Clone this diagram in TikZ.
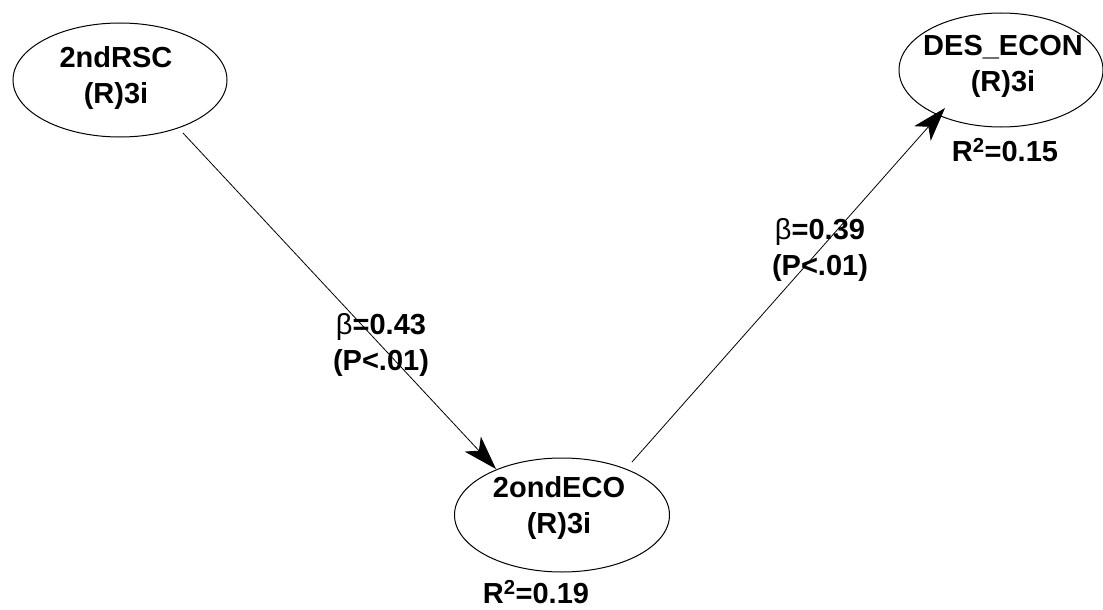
\documentclass[tikz,border=0pt]{standalone}
\usepackage{fontspec}
\setmainfont{Liberation Sans}
\usetikzlibrary{shapes.geometric,arrows.meta}
\begin{document}
\begin{tikzpicture}[x=1pt,y=-1pt,
  lv/.style={draw=black,line width=1pt,ellipse,minimum width=#1,minimum height=114pt,inner sep=0pt},
  txt/.style={font=\fontsize{29}{36}\selectfont\bfseries,align=center},
  lab/.style={font=\fontsize{29}{36}\selectfont\bfseries,align=center},
  path/.style={draw=black,line width=0.8pt,-{Stealth[length=34pt,width=22pt,inset=9pt]}}]
\fill[white] (0,0) rectangle (1103,610);
\useasboundingbox (0,0) rectangle (1103,610);
\node[lv=214pt] (rsc) at (120,80) {};
\node[txt] at (116,78) {2ndRSC\\(R)3i};
\node[lv=204pt] (des) at (1001,70) {};
\node[txt] at (1003,66) {DES\_ECON\\(R)3i};
\node[lv=215pt] (eco) at (562,515) {};
\node[txt] at (559,508) {2ondECO\\(R)3i};
\node[txt] (r1) at (1005,150) {R\textsuperscript{2}=0.15};
\node[txt] (r2) at (536,592) {R\textsuperscript{2}=0.19};
\coordinate (a1) at (183,133);
\coordinate (b1) at (496,469);
\coordinate (a2) at (632,462);
\coordinate (b2) at (945,108);
\draw[path] (a1) -- (b1);
\draw[path] (a2) -- (b2);
\node[lab] (l1) at (381,345) {{\mdseries β}=0.43\\(P<.01)};
\node[lab] (l2) at (820,250) {{\mdseries β}=0.39\\(P<.01)};
\end{tikzpicture}
\end{document}
